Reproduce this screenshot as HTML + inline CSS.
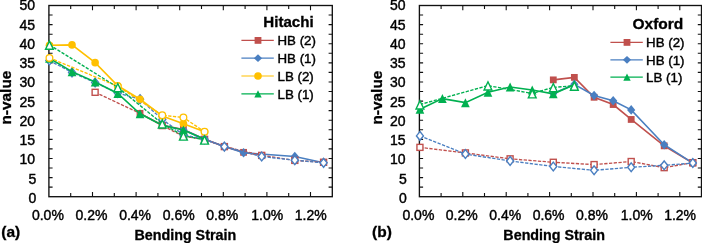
<!DOCTYPE html>
<html><head><meta charset="utf-8"><title>n-value vs Bending Strain</title>
<style>
html,body{margin:0;padding:0;background:#fff;}
svg{display:block;}
text{font-family:"Liberation Sans",sans-serif;font-size:14px;fill:#000;stroke:#000;stroke-width:0.42px;}
text.b{font-weight:bold;font-size:14.3px;stroke-width:0.3px;}
text.l{font-size:13.3px;}
text.lt{font-weight:bold;font-size:15.1px;stroke-width:0.3px;}
text.yl{font-weight:bold;font-size:15.4px;stroke-width:0.3px;}
text.pn{font-weight:bold;font-size:15.5px;stroke-width:0.3px;}
</style></head><body>
<svg width="702" height="243" viewBox="0 0 702 243">
<rect width="702" height="243" fill="#fff"/>
<rect x="48.9" y="5.5" width="283.4" height="191.2" fill="none" stroke="#111" stroke-width="1.35"/>
<path d="M70.7 196.7v-3.6M70.7 5.5v3.6M92.5 196.7v-4.8M92.5 5.5v4.8M114.3 196.7v-3.6M114.3 5.5v3.6M136.1 196.7v-4.8M136.1 5.5v4.8M157.9 196.7v-3.6M157.9 5.5v3.6M179.7 196.7v-4.8M179.7 5.5v4.8M201.5 196.7v-3.6M201.5 5.5v3.6M223.3 196.7v-4.8M223.3 5.5v4.8M245.1 196.7v-3.6M245.1 5.5v3.6M266.9 196.7v-4.8M266.9 5.5v4.8M288.7 196.7v-3.6M288.7 5.5v3.6M310.5 196.7v-4.8M310.5 5.5v4.8M48.9 187.14h3.7M332.3 187.14h-3.7M48.9 177.58h3.7M332.3 177.58h-3.7M48.9 168.02h3.7M332.3 168.02h-3.7M48.9 158.46h3.7M332.3 158.46h-3.7M48.9 148.9h3.7M332.3 148.9h-3.7M48.9 139.34h3.7M332.3 139.34h-3.7M48.9 129.78h3.7M332.3 129.78h-3.7M48.9 120.22h3.7M332.3 120.22h-3.7M48.9 110.66h3.7M332.3 110.66h-3.7M48.9 101.1h3.7M332.3 101.1h-3.7M48.9 91.54h3.7M332.3 91.54h-3.7M48.9 81.98h3.7M332.3 81.98h-3.7M48.9 72.42h3.7M332.3 72.42h-3.7M48.9 62.86h3.7M332.3 62.86h-3.7M48.9 53.3h3.7M332.3 53.3h-3.7M48.9 43.74h3.7M332.3 43.74h-3.7M48.9 34.18h3.7M332.3 34.18h-3.7M48.9 24.62h3.7M332.3 24.62h-3.7M48.9 15.06h3.7M332.3 15.06h-3.7" stroke="#111" stroke-width="1.1" fill="none"/>
<text x="36.3" y="202.8" text-anchor="end">0</text>
<text x="36.3" y="183.56" text-anchor="end">5</text>
<text x="35.1" y="164.33" text-anchor="end">10</text>
<text x="35.1" y="145.09" text-anchor="end">15</text>
<text x="35.1" y="125.86" text-anchor="end">20</text>
<text x="35.1" y="106.62" text-anchor="end">25</text>
<text x="35.1" y="87.39" text-anchor="end">30</text>
<text x="35.1" y="68.15" text-anchor="end">35</text>
<text x="35.1" y="48.92" text-anchor="end">40</text>
<text x="35.1" y="29.69" text-anchor="end">45</text>
<text x="35.1" y="10.45" text-anchor="end">50</text>
<text x="47.9" y="220.3" text-anchor="middle">0.0%</text>
<text x="91.5" y="220.3" text-anchor="middle">0.2%</text>
<text x="135.1" y="220.3" text-anchor="middle">0.4%</text>
<text x="178.7" y="220.3" text-anchor="middle">0.6%</text>
<text x="222.3" y="220.3" text-anchor="middle">0.8%</text>
<text x="267.2" y="220.3" text-anchor="middle">1.0%</text>
<text x="310.8" y="220.3" text-anchor="middle">1.2%</text>
<polyline points="140.02,113.34 162.26,125.19 183.41,129.4 204.55,139.34 224.39,146.61 243.57,152.34 261.67,155.4" fill="none" stroke="#c0504d" stroke-width="1.6"/>
<rect x="136.62" y="109.94" width="6.8" height="6.8" fill="#c0504d"/>
<rect x="180.01" y="126" width="6.8" height="6.8" fill="#c0504d"/>
<rect x="240.17" y="148.94" width="6.8" height="6.8" fill="#c0504d"/>
<rect x="258.27" y="152" width="6.8" height="6.8" fill="#c0504d"/>
<polyline points="49.45,60.57" fill="none" stroke="#4a7fc1" stroke-width="1.6"/>
<polygon points="49.45,55.77 53.55,60.57 49.45,65.37 45.34,60.57" fill="#4a7fc1"/>
<polyline points="140.02,99.19" fill="none" stroke="#4a7fc1" stroke-width="1.6"/>
<polygon points="140.02,94.39 144.12,99.19 140.02,103.99 135.92,99.19" fill="#4a7fc1"/>
<polyline points="183.41,129.78 204.55,139.34 224.39,146.61 243.57,152.72 294.8,156.55 323.58,162.67" fill="none" stroke="#4a7fc1" stroke-width="1.6"/>
<polygon points="183.41,124.98 187.51,129.78 183.41,134.58 179.31,129.78" fill="#4a7fc1"/>
<polygon points="243.57,147.92 247.67,152.72 243.57,157.52 239.47,152.72" fill="#4a7fc1"/>
<polygon points="294.8,151.75 298.9,156.55 294.8,161.35 290.7,156.55" fill="#4a7fc1"/>
<polygon points="323.58,157.87 327.68,162.67 323.58,167.47 319.48,162.67" fill="#4a7fc1"/>
<polyline points="95.12,92.3 140.02,113.34 162.26,125.57 183.41,136.28 204.55,139.34 224.39,146.61 261.67,155.4 294.8,160.37 323.58,162.28" fill="none" stroke="#c0504d" stroke-width="1.35" stroke-dasharray="3.3 1.45"/>
<rect x="92.12" y="89.3" width="6" height="6" fill="#fff" stroke="#c0504d" stroke-width="1.4"/>
<rect x="159.26" y="122.57" width="6" height="6" fill="#fff" stroke="#c0504d" stroke-width="1.4"/>
<rect x="180.41" y="133.28" width="6" height="6" fill="#fff" stroke="#c0504d" stroke-width="1.4"/>
<rect x="201.55" y="136.34" width="6" height="6" fill="#fff" stroke="#c0504d" stroke-width="1.4"/>
<rect x="221.39" y="143.61" width="6" height="6" fill="#fff" stroke="#c0504d" stroke-width="1.4"/>
<rect x="258.67" y="152.4" width="6" height="6" fill="#fff" stroke="#c0504d" stroke-width="1.4"/>
<rect x="291.8" y="157.37" width="6" height="6" fill="#fff" stroke="#c0504d" stroke-width="1.4"/>
<rect x="320.58" y="159.28" width="6" height="6" fill="#fff" stroke="#c0504d" stroke-width="1.4"/>
<polyline points="49.45,60.57 72.01,72.42 95.12,82.55 117.79,93.07 140.02,99.19 162.26,119.46 183.41,134.75 204.55,139.34 224.39,146.61 261.67,156.55 294.8,160.18 323.58,162.86" fill="none" stroke="#4a7fc1" stroke-width="1.35" stroke-dasharray="3.3 1.45"/>
<polygon points="49.45,56.17 52.95,60.57 49.45,64.97 45.95,60.57" fill="#fff" stroke="#4a7fc1" stroke-width="1.4"/>
<polygon points="72.01,68.02 75.51,72.42 72.01,76.82 68.51,72.42" fill="#fff" stroke="#4a7fc1" stroke-width="1.4"/>
<polygon points="95.12,78.15 98.62,82.55 95.12,86.95 91.62,82.55" fill="#fff" stroke="#4a7fc1" stroke-width="1.4"/>
<polygon points="117.79,88.67 121.29,93.07 117.79,97.47 114.29,93.07" fill="#fff" stroke="#4a7fc1" stroke-width="1.4"/>
<polygon points="140.02,94.79 143.52,99.19 140.02,103.59 136.52,99.19" fill="#fff" stroke="#4a7fc1" stroke-width="1.4"/>
<polygon points="162.26,115.06 165.76,119.46 162.26,123.86 158.76,119.46" fill="#fff" stroke="#4a7fc1" stroke-width="1.4"/>
<polygon points="183.41,130.35 186.91,134.75 183.41,139.15 179.91,134.75" fill="#fff" stroke="#4a7fc1" stroke-width="1.4"/>
<polygon points="204.55,134.94 208.05,139.34 204.55,143.74 201.05,139.34" fill="#fff" stroke="#4a7fc1" stroke-width="1.4"/>
<polygon points="224.39,142.21 227.89,146.61 224.39,151.01 220.89,146.61" fill="#fff" stroke="#4a7fc1" stroke-width="1.4"/>
<polygon points="261.67,152.15 265.17,156.55 261.67,160.95 258.17,156.55" fill="#fff" stroke="#4a7fc1" stroke-width="1.4"/>
<polygon points="294.8,155.78 298.3,160.18 294.8,164.58 291.3,160.18" fill="#fff" stroke="#4a7fc1" stroke-width="1.4"/>
<polygon points="323.58,158.46 327.08,162.86 323.58,167.26 320.08,162.86" fill="#fff" stroke="#4a7fc1" stroke-width="1.4"/>
<polyline points="49.45,45.27 72.01,44.89 95.12,62.67 117.79,85.8 140.02,99.19 162.26,116.01 183.41,123.66 204.55,131.69" fill="none" stroke="#ffc000" stroke-width="1.6"/>
<circle cx="49.45" cy="45.27" r="3.8" fill="#ffc000"/>
<circle cx="72.01" cy="44.89" r="3.8" fill="#ffc000"/>
<circle cx="95.12" cy="62.67" r="3.8" fill="#ffc000"/>
<circle cx="117.79" cy="85.8" r="3.8" fill="#ffc000"/>
<circle cx="140.02" cy="99.19" r="3.8" fill="#ffc000"/>
<circle cx="162.26" cy="116.01" r="3.8" fill="#ffc000"/>
<circle cx="183.41" cy="123.66" r="3.8" fill="#ffc000"/>
<circle cx="204.55" cy="131.69" r="3.8" fill="#ffc000"/>
<polyline points="49.45,58.27 72.01,71.66 95.12,81.98 117.79,93.45 140.02,113.72 162.26,125.19 183.41,129.97 204.55,139.34" fill="none" stroke="#00b050" stroke-width="1.6"/>
<polygon points="49.45,53.77 53.8,62.77 45.09,62.77" fill="#00b050"/>
<polygon points="72.01,67.16 76.36,76.16 67.66,76.16" fill="#00b050"/>
<polygon points="95.12,77.48 99.47,86.48 90.77,86.48" fill="#00b050"/>
<polygon points="117.79,88.95 122.14,97.95 113.44,97.95" fill="#00b050"/>
<polygon points="140.02,109.22 144.37,118.22 135.67,118.22" fill="#00b050"/>
<polygon points="183.41,125.47 187.76,134.47 179.06,134.47" fill="#00b050"/>
<polygon points="204.55,134.84 208.9,143.84 200.2,143.84" fill="#00b050"/>
<polyline points="49.45,57.89 117.79,86.19 162.26,115.25 183.41,117.54 204.55,131.69" fill="none" stroke="#ffc000" stroke-width="1.35" stroke-dasharray="3.3 1.45"/>
<circle cx="49.45" cy="57.89" r="3.35" fill="#fff" stroke="#ffc000" stroke-width="1.3"/>
<circle cx="117.79" cy="86.19" r="3.35" fill="#fff" stroke="#ffc000" stroke-width="1.3"/>
<circle cx="162.26" cy="115.25" r="3.35" fill="#fff" stroke="#ffc000" stroke-width="1.3"/>
<circle cx="183.41" cy="117.54" r="3.35" fill="#fff" stroke="#ffc000" stroke-width="1.3"/>
<circle cx="204.55" cy="131.69" r="3.35" fill="#fff" stroke="#ffc000" stroke-width="1.3"/>
<polyline points="49.45,44.89 117.79,87.33 162.26,123.66 183.41,135.71 204.55,139.72" fill="none" stroke="#00b050" stroke-width="1.35" stroke-dasharray="3.3 1.45"/>
<polygon points="49.45,41.09 53.34,49.29 45.55,49.29" fill="#fff" stroke="#00b050" stroke-width="1.4" stroke-linejoin="miter"/>
<polygon points="117.79,83.53 121.69,91.73 113.89,91.73" fill="#fff" stroke="#00b050" stroke-width="1.4" stroke-linejoin="miter"/>
<polygon points="162.26,119.86 166.16,128.06 158.36,128.06" fill="#fff" stroke="#00b050" stroke-width="1.4" stroke-linejoin="miter"/>
<polygon points="183.41,131.91 187.31,140.11 179.51,140.11" fill="#fff" stroke="#00b050" stroke-width="1.4" stroke-linejoin="miter"/>
<polygon points="204.55,135.92 208.45,144.12 200.65,144.12" fill="#fff" stroke="#00b050" stroke-width="1.4" stroke-linejoin="miter"/>
<rect x="419.4" y="5.5" width="282.1" height="191.2" fill="none" stroke="#111" stroke-width="1.35"/>
<path d="M441.1 196.7v-3.6M441.1 5.5v3.6M462.8 196.7v-4.8M462.8 5.5v4.8M484.5 196.7v-3.6M484.5 5.5v3.6M506.2 196.7v-4.8M506.2 5.5v4.8M527.9 196.7v-3.6M527.9 5.5v3.6M549.6 196.7v-4.8M549.6 5.5v4.8M571.3 196.7v-3.6M571.3 5.5v3.6M593 196.7v-4.8M593 5.5v4.8M614.7 196.7v-3.6M614.7 5.5v3.6M636.4 196.7v-4.8M636.4 5.5v4.8M658.1 196.7v-3.6M658.1 5.5v3.6M679.8 196.7v-4.8M679.8 5.5v4.8M419.4 187.14h3.7M701.5 187.14h-3.7M419.4 177.58h3.7M701.5 177.58h-3.7M419.4 168.02h3.7M701.5 168.02h-3.7M419.4 158.46h3.7M701.5 158.46h-3.7M419.4 148.9h3.7M701.5 148.9h-3.7M419.4 139.34h3.7M701.5 139.34h-3.7M419.4 129.78h3.7M701.5 129.78h-3.7M419.4 120.22h3.7M701.5 120.22h-3.7M419.4 110.66h3.7M701.5 110.66h-3.7M419.4 101.1h3.7M701.5 101.1h-3.7M419.4 91.54h3.7M701.5 91.54h-3.7M419.4 81.98h3.7M701.5 81.98h-3.7M419.4 72.42h3.7M701.5 72.42h-3.7M419.4 62.86h3.7M701.5 62.86h-3.7M419.4 53.3h3.7M701.5 53.3h-3.7M419.4 43.74h3.7M701.5 43.74h-3.7M419.4 34.18h3.7M701.5 34.18h-3.7M419.4 24.62h3.7M701.5 24.62h-3.7M419.4 15.06h3.7M701.5 15.06h-3.7" stroke="#111" stroke-width="1.1" fill="none"/>
<text x="406.8" y="202.8" text-anchor="end">0</text>
<text x="406.8" y="183.56" text-anchor="end">5</text>
<text x="405.6" y="164.33" text-anchor="end">10</text>
<text x="405.6" y="145.09" text-anchor="end">15</text>
<text x="405.6" y="125.86" text-anchor="end">20</text>
<text x="405.6" y="106.62" text-anchor="end">25</text>
<text x="405.6" y="87.39" text-anchor="end">30</text>
<text x="405.6" y="68.15" text-anchor="end">35</text>
<text x="405.6" y="48.92" text-anchor="end">40</text>
<text x="405.6" y="29.69" text-anchor="end">45</text>
<text x="405.6" y="10.45" text-anchor="end">50</text>
<text x="418.4" y="220.3" text-anchor="middle">0.0%</text>
<text x="461.8" y="220.3" text-anchor="middle">0.2%</text>
<text x="505.2" y="220.3" text-anchor="middle">0.4%</text>
<text x="548.6" y="220.3" text-anchor="middle">0.6%</text>
<text x="592" y="220.3" text-anchor="middle">0.8%</text>
<text x="636.7" y="220.3" text-anchor="middle">1.0%</text>
<text x="680.1" y="220.3" text-anchor="middle">1.2%</text>
<polyline points="553.29,79.88 574.34,77.39 594.09,97.28 613.18,104.54 631.19,119.46 664.18,145.84 692.82,163.05" fill="none" stroke="#c0504d" stroke-width="1.6"/>
<rect x="549.89" y="76.48" width="6.8" height="6.8" fill="#c0504d"/>
<rect x="570.94" y="73.99" width="6.8" height="6.8" fill="#c0504d"/>
<rect x="590.69" y="93.88" width="6.8" height="6.8" fill="#c0504d"/>
<rect x="609.78" y="101.14" width="6.8" height="6.8" fill="#c0504d"/>
<rect x="627.79" y="116.06" width="6.8" height="6.8" fill="#c0504d"/>
<rect x="660.78" y="142.44" width="6.8" height="6.8" fill="#c0504d"/>
<rect x="689.42" y="159.65" width="6.8" height="6.8" fill="#c0504d"/>
<polyline points="553.29,93.45 574.34,84.27 594.09,95.56 613.18,100.72 631.19,109.9 664.18,144.69 692.82,163.05" fill="none" stroke="#4a7fc1" stroke-width="1.6"/>
<polygon points="553.29,88.65 557.39,93.45 553.29,98.25 549.19,93.45" fill="#4a7fc1"/>
<polygon points="574.34,79.47 578.44,84.27 574.34,89.07 570.24,84.27" fill="#4a7fc1"/>
<polygon points="594.09,90.76 598.19,95.56 594.09,100.36 589.99,95.56" fill="#4a7fc1"/>
<polygon points="613.18,95.92 617.28,100.72 613.18,105.52 609.08,100.72" fill="#4a7fc1"/>
<polygon points="631.19,105.1 635.29,109.9 631.19,114.7 627.09,109.9" fill="#4a7fc1"/>
<polygon points="664.18,139.89 668.28,144.69 664.18,149.49 660.08,144.69" fill="#4a7fc1"/>
<polygon points="692.82,158.25 696.92,163.05 692.82,167.85 688.72,163.05" fill="#4a7fc1"/>
<polyline points="419.94,147.37 465.4,152.92 510.11,158.84 553.29,162.28 594.09,164.58 631.19,161.52 664.18,167.64 692.82,162.67" fill="none" stroke="#c0504d" stroke-width="1.35" stroke-dasharray="3.3 1.45"/>
<rect x="416.94" y="144.37" width="6" height="6" fill="#fff" stroke="#c0504d" stroke-width="1.4"/>
<rect x="462.4" y="149.92" width="6" height="6" fill="#fff" stroke="#c0504d" stroke-width="1.4"/>
<rect x="507.11" y="155.84" width="6" height="6" fill="#fff" stroke="#c0504d" stroke-width="1.4"/>
<rect x="550.29" y="159.28" width="6" height="6" fill="#fff" stroke="#c0504d" stroke-width="1.4"/>
<rect x="591.09" y="161.58" width="6" height="6" fill="#fff" stroke="#c0504d" stroke-width="1.4"/>
<rect x="628.19" y="158.52" width="6" height="6" fill="#fff" stroke="#c0504d" stroke-width="1.4"/>
<rect x="661.18" y="164.64" width="6" height="6" fill="#fff" stroke="#c0504d" stroke-width="1.4"/>
<rect x="689.82" y="159.67" width="6" height="6" fill="#fff" stroke="#c0504d" stroke-width="1.4"/>
<polyline points="419.94,135.9 465.4,154.06 510.11,160.95 553.29,166.49 594.09,170.31 631.19,167.26 664.18,165.34 692.82,163.05" fill="none" stroke="#4a7fc1" stroke-width="1.35" stroke-dasharray="3.3 1.45"/>
<polygon points="419.94,131.5 423.44,135.9 419.94,140.3 416.44,135.9" fill="#fff" stroke="#4a7fc1" stroke-width="1.4"/>
<polygon points="465.4,149.66 468.9,154.06 465.4,158.46 461.9,154.06" fill="#fff" stroke="#4a7fc1" stroke-width="1.4"/>
<polygon points="510.11,156.55 513.61,160.95 510.11,165.35 506.61,160.95" fill="#fff" stroke="#4a7fc1" stroke-width="1.4"/>
<polygon points="553.29,162.09 556.79,166.49 553.29,170.89 549.79,166.49" fill="#fff" stroke="#4a7fc1" stroke-width="1.4"/>
<polygon points="594.09,165.91 597.59,170.31 594.09,174.71 590.59,170.31" fill="#fff" stroke="#4a7fc1" stroke-width="1.4"/>
<polygon points="631.19,162.86 634.69,167.26 631.19,171.66 627.69,167.26" fill="#fff" stroke="#4a7fc1" stroke-width="1.4"/>
<polygon points="664.18,160.94 667.68,165.34 664.18,169.74 660.68,165.34" fill="#fff" stroke="#4a7fc1" stroke-width="1.4"/>
<polygon points="692.82,158.65 696.32,163.05 692.82,167.45 689.32,163.05" fill="#fff" stroke="#4a7fc1" stroke-width="1.4"/>
<polyline points="419.94,109.32 442.4,98.61 465.4,102.63 487.97,92.3 510.11,86.95 532.24,90.01 553.29,93.83 574.34,84.66" fill="none" stroke="#00b050" stroke-width="1.6"/>
<polygon points="419.94,104.82 424.29,113.82 415.59,113.82" fill="#00b050"/>
<polygon points="442.4,94.11 446.75,103.11 438.05,103.11" fill="#00b050"/>
<polygon points="465.4,98.13 469.75,107.13 461.05,107.13" fill="#00b050"/>
<polygon points="487.97,87.8 492.32,96.8 483.62,96.8" fill="#00b050"/>
<polygon points="510.11,82.45 514.46,91.45 505.76,91.45" fill="#00b050"/>
<polygon points="532.24,85.51 536.59,94.51 527.89,94.51" fill="#00b050"/>
<polygon points="553.29,89.33 557.64,98.33 548.94,98.33" fill="#00b050"/>
<polygon points="574.34,80.16 578.69,89.16 569.99,89.16" fill="#00b050"/>
<polyline points="419.94,104.54 487.97,85.61 532.24,93.45 553.29,87.33 574.34,85.8" fill="none" stroke="#00b050" stroke-width="1.35" stroke-dasharray="3.3 1.45"/>
<polygon points="419.94,100.74 423.84,108.94 416.04,108.94" fill="#fff" stroke="#00b050" stroke-width="1.4" stroke-linejoin="miter"/>
<polygon points="487.97,81.81 491.87,90.01 484.07,90.01" fill="#fff" stroke="#00b050" stroke-width="1.4" stroke-linejoin="miter"/>
<polygon points="532.24,89.65 536.14,97.85 528.34,97.85" fill="#fff" stroke="#00b050" stroke-width="1.4" stroke-linejoin="miter"/>
<polygon points="553.29,83.53 557.19,91.73 549.39,91.73" fill="#fff" stroke="#00b050" stroke-width="1.4" stroke-linejoin="miter"/>
<polygon points="574.34,82 578.24,90.2 570.44,90.2" fill="#fff" stroke="#00b050" stroke-width="1.4" stroke-linejoin="miter"/>
<text class="lt" style="font-size:15.1px" x="313.7" y="27.2" text-anchor="end">Hitachi</text>
<line x1="241.4" y1="40.4" x2="273.8" y2="40.4" stroke="#c0504d" stroke-width="1.2"/>
<rect x="254.6" y="37" width="6.8" height="6.8" fill="#c0504d"/>
<text class="l" x="277.5" y="45.1">HB (2)</text>
<line x1="241.4" y1="58.2" x2="273.8" y2="58.2" stroke="#4a7fc1" stroke-width="1.2"/>
<polygon points="258,54.35 262.1,58.2 258,62.05 253.9,58.2" fill="#4a7fc1"/>
<text class="l" x="277.5" y="62.9">HB (1)</text>
<line x1="241.4" y1="76" x2="273.8" y2="76" stroke="#ffc000" stroke-width="1.2"/>
<circle cx="258" cy="76" r="3.8" fill="#ffc000"/>
<text class="l" x="277.5" y="80.7">LB (2)</text>
<line x1="241.4" y1="93.8" x2="273.8" y2="93.8" stroke="#00b050" stroke-width="1.2"/>
<polygon points="258,90.2 261.7,97.4 254.3,97.4" fill="#00b050"/>
<text class="l" x="277.5" y="98.5">LB (1)</text>
<text class="lt" style="font-size:15.5px" x="683.3" y="28.6" text-anchor="end">Oxford</text>
<line x1="610.4" y1="42.4" x2="642.8" y2="42.4" stroke="#c0504d" stroke-width="1.2"/>
<rect x="623.6" y="39" width="6.8" height="6.8" fill="#c0504d"/>
<text class="l" x="646.1" y="47.1">HB (2)</text>
<line x1="610.4" y1="59.8" x2="642.8" y2="59.8" stroke="#4a7fc1" stroke-width="1.2"/>
<polygon points="627,55.95 631.1,59.8 627,63.65 622.9,59.8" fill="#4a7fc1"/>
<text class="l" x="646.1" y="64.5">HB (1)</text>
<line x1="610.4" y1="77.2" x2="642.8" y2="77.2" stroke="#00b050" stroke-width="1.2"/>
<polygon points="627,73.6 630.7,80.8 623.3,80.8" fill="#00b050"/>
<text class="l" x="646.1" y="81.9">LB (1)</text>
<text class="b" x="185.3" y="239.7" text-anchor="middle">Bending Strain</text>
<text class="b" x="554.2" y="239.7" text-anchor="middle">Bending Strain</text>
<text class="pn" x="1.3" y="236.8">(a)</text>
<text class="pn" x="372" y="236.8">(b)</text>
<text class="yl" transform="translate(11.2 97.6) rotate(-90)" text-anchor="middle">n-value</text>
<text class="yl" transform="translate(382 97.6) rotate(-90)" text-anchor="middle">n-value</text>
</svg>
</body></html>
